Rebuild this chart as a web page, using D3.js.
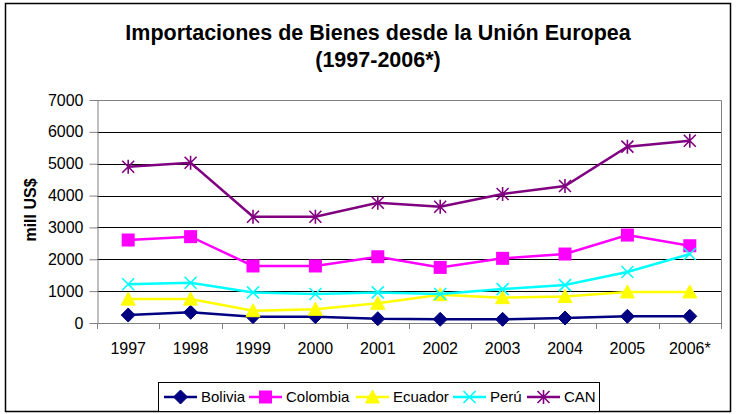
<!DOCTYPE html>
<html>
<head>
<meta charset="utf-8">
<script src="https://cdn.jsdelivr.net/npm/d3@7"></script>
<style>
	body { margin: 0; background: #fff; }
	svg { display: block; font-family: "Liberation Sans", Arial, sans-serif; }
</style>
</head>
<body>
<div id="chart"></div>
<script>
////////////////////////////////////////////////////////////
/////////////////////// Data ///////////////////////////////
////////////////////////////////////////////////////////////

var years = ["1997","1998","1999","2000","2001","2002","2003","2004","2005","2006*"];
var seriesNames = ["Bolivia","Colombia","Ecuador","Perú","CAN"];
var bolivia  = [250, 335, 200, 200, 135, 115, 115, 157, 210, 210];
var colombia = [2605, 2710, 1790, 1790, 2080, 1745, 2030, 2165, 2760, 2425];
var ecuador  = [750, 750, 385, 430, 620, 890, 795, 830, 975, 975];
var peru     = [1215, 1265, 960, 910, 960, 910, 1065, 1190, 1600, 2165];
var can      = [4905, 5030, 3335, 3335, 3775, 3650, 4050, 4300, 5535, 5720];
var yTicks = [0, 1000, 2000, 3000, 4000, 5000, 6000, 7000];

var seriesValues = [bolivia, colombia, ecuador, peru, can];
var seriesColors = ["#000080", "#FF00FF", "#FFFF00", "#00FFFF", "#800080"];
var seriesMarkers = ["diamond", "square", "triangle", "cross", "star"];

////////////////////////////////////////////////////////////
/////////////////////// Set-up /////////////////////////////
////////////////////////////////////////////////////////////

var width = 736, height = 414;
var plot = {left: 97, right: 721, top: 100, bottom: 323};

var svg = d3.select("#chart").append("svg")
	.attr("width", width)
	.attr("height", height);

//Outer frame
svg.append("rect")
	.attr("x", 5.5).attr("y", 3.5)
	.attr("width", 725).attr("height", 408)
	.style("fill", "none").style("stroke", "#000").style("stroke-width", 1.5);

var x = d3.scaleBand().domain(years).range([plot.left, plot.right]);
var y = d3.scaleLinear().domain([0, 7000]).range([plot.bottom, plot.top]);

////////////////////////////////////////////////////////////
/////////////////////// Title //////////////////////////////
////////////////////////////////////////////////////////////

var title = svg.append("text")
	.attr("text-anchor", "middle")
	.style("font-size", "21.5px").style("font-weight", "bold");
title.append("tspan").attr("x", 378).attr("y", 40).text("Importaciones de Bienes desde la Unión Europea");
title.append("tspan").attr("x", 378).attr("y", 67).text("(1997-2006*)");

////////////////////////////////////////////////////////////
/////////////////////// Grid & axes ////////////////////////
////////////////////////////////////////////////////////////

svg.selectAll(".grid")
	.data(yTicks.filter(function(d) { return d > 0; }))
	.enter().append("line")
	.attr("class", "grid")
	.attr("x1", plot.left).attr("x2", plot.right)
	.attr("y1", function(d) { return Math.round(y(d)) + 0.5; })
	.attr("y2", function(d) { return Math.round(y(d)) + 0.5; })
	.style("stroke", "#000").style("stroke-width", 1);

//Plot border top & right (grey)
svg.append("path")
	.attr("d", "M" + plot.left + "," + (plot.top + 0.5) + "H" + (plot.right + 0.5) + "V" + plot.bottom)
	.style("fill", "none").style("stroke", "#808080").style("stroke-width", 1);

var yAxis = d3.axisLeft(y).tickValues(yTicks).tickFormat(d3.format("d"))
	.tickSize(8).tickSizeOuter(0).tickPadding(6);
var gy = svg.append("g")
	.attr("transform", "translate(" + (plot.left + 0.5) + ",0)")
	.call(yAxis);
gy.attr("font-family", null).attr("font-size", null);
gy.select(".domain").style("stroke", "#808080");
gy.selectAll(".tick line").style("stroke", "#808080");
gy.selectAll(".tick text").style("font-size", "16px").attr("fill", "#000");

var xAxis = d3.axisBottom(x).tickSize(0).tickPadding(19);
var gx = svg.append("g")
	.attr("transform", "translate(0," + (plot.bottom + 0.5) + ")")
	.call(xAxis);
gx.attr("font-family", null).attr("font-size", null);
gx.select(".domain").attr("d", "M" + plot.left + ",0H" + plot.right).style("stroke", "#808080");
gx.selectAll(".tick text").style("font-size", "16px").attr("fill", "#000");

//Category boundary ticks
svg.selectAll(".xtick")
	.data(d3.range(years.length + 1))
	.enter().append("line")
	.attr("class", "xtick")
	.attr("x1", function(d) { return Math.round(plot.left + d * x.step()) + 0.5; })
	.attr("x2", function(d) { return Math.round(plot.left + d * x.step()) + 0.5; })
	.attr("y1", plot.bottom).attr("y2", plot.bottom + 6)
	.style("stroke", "#808080");

//Y axis title
svg.append("text")
	.attr("transform", "translate(36," + 210 + ")rotate(-90)")
	.attr("text-anchor", "middle")
	.style("font-size", "16px").style("font-weight", "bold")
	.text("mill US$");

////////////////////////////////////////////////////////////
/////////////////////// Markers ////////////////////////////
////////////////////////////////////////////////////////////

function drawMarker(g, type, color) {
	if (type === "diamond") {
		g.append("path").attr("d", "M0,-7L7,0L0,7L-7,0Z").style("fill", color).style("stroke", color);
	} else if (type === "square") {
		g.append("rect").attr("x", -6.5).attr("y", -6.5).attr("width", 13).attr("height", 13).style("fill", color);
	} else if (type === "triangle") {
		g.append("path").attr("d", "M0,-7L7,6L-7,6Z").style("fill", color).style("stroke", color);
	} else if (type === "cross") {
		g.append("path").attr("d", "M-6,-6L6,6M-6,6L6,-6").style("stroke", color).style("stroke-width", 1.6);
	} else if (type === "star") {
		g.append("path").attr("d", "M-6,-6L6,6M-6,6L6,-6M0,-7V7").style("stroke", color).style("stroke-width", 1.6);
	}
}

////////////////////////////////////////////////////////////
/////////////////////// Lines //////////////////////////////
////////////////////////////////////////////////////////////

var line = d3.line()
	.x(function(d, i) { return x(years[i]) + x.bandwidth() / 2; })
	.y(function(d) { return y(d); });

seriesValues.forEach(function(vals, s) {
	svg.append("path")
		.datum(vals)
		.attr("d", line)
		.style("fill", "none")
		.style("stroke", seriesColors[s])
		.style("stroke-width", 2.5);

	vals.forEach(function(v, i) {
		var g = svg.append("g")
			.attr("transform", "translate(" + (x(years[i]) + x.bandwidth() / 2) + "," + y(v) + ")");
		drawMarker(g, seriesMarkers[s], seriesColors[s]);
	});
});

////////////////////////////////////////////////////////////
/////////////////////// Legend /////////////////////////////
////////////////////////////////////////////////////////////

var legend = svg.append("g").attr("class", "legend");
legend.append("rect")
	.attr("x", 158.5).attr("y", 382.5)
	.attr("width", 441).attr("height", 29)
	.style("fill", "#fff").style("stroke", "#000");

var legendX = [164, 249, 356, 453, 527];
seriesNames.forEach(function(name, i) {
	var g = legend.append("g").attr("transform", "translate(" + legendX[i] + ",397)");
	g.append("line").attr("x1", 0).attr("x2", 33).style("stroke", seriesColors[i]).style("stroke-width", 2.5);
	var m = g.append("g").attr("transform", "translate(16.5,0)");
	drawMarker(m, seriesMarkers[i], seriesColors[i]);
	g.append("text").attr("x", 37).attr("dy", "0.36em").style("font-size", "15px").text(name);
});
</script>
</body>
</html>
